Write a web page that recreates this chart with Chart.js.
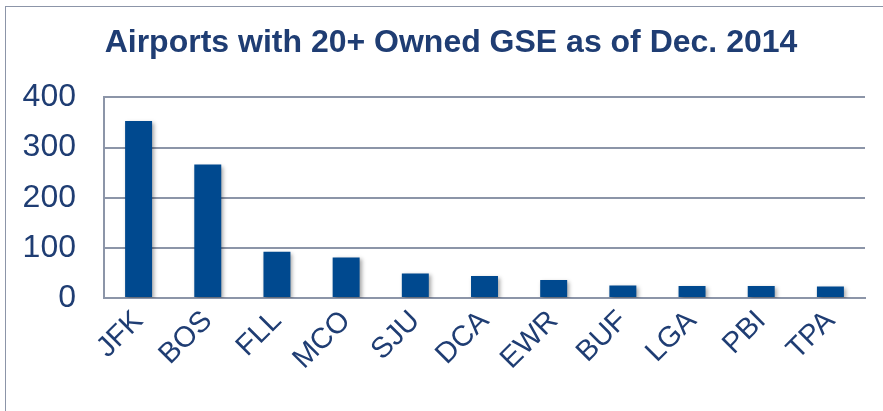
<!DOCTYPE html>
<html>
<head>
<meta charset="utf-8">
<script src="https://cdn.jsdelivr.net/npm/chart.js@4/dist/chart.umd.min.js"></script>
<style>
  html, body { margin: 0; padding: 0; background: #ffffff; }
  .frame {
    position: absolute;
    left: 5px; top: 6px;
    width: 900px; height: 420px;
    border-left: 1px solid #8c95a8;
    border-top: 1px solid #8c95a8;
  }
  .chart-box { position: absolute; left: 0; top: 0; width: 883px; height: 411px; }
</style>
</head>
<body>
<div class="frame"></div>
<div class="chart-box"><canvas id="gseChart"></canvas></div>
<script>
// Airports and owned GSE counts
const airports = ['JFK', 'BOS', 'FLL', 'MCO', 'SJU', 'DCA', 'EWR', 'BUF', 'LGA', 'PBI', 'TPA'];
const gseCounts = [353, 266, 92, 81, 49, 44, 36, 25, 24, 24, 23];
const yTicks = [0, 100, 200, 300, 400];

const textBlue = '#1f3d73';
const barBlue = '#00498f';
const gridGray = '#8c95a8';
const fontFamily = 'Liberation Sans, Arial, sans-serif';

// soft drop shadow under the bars, like the original export
const barShadow = {
    id: 'barShadow',
    beforeDatasetsDraw(chart) {
        const ctx = chart.ctx;
        ctx.save();
        ctx.shadowColor = 'rgba(0, 0, 0, 0.35)';
        ctx.shadowBlur = 4;
        ctx.shadowOffsetX = 2;
        ctx.shadowOffsetY = 2;
    },
    afterDatasetsDraw(chart) {
        chart.ctx.restore();
    }
};

// the original title sits a bit right of the canvas centre
const titleShift = {
    id: 'titleShift',
    afterLayout(chart) {
        if (chart.titleBlock) {
            chart.titleBlock.left += 37;
        }
    }
};

const ctx = document.getElementById('gseChart').getContext('2d');
new Chart(ctx, {
    type: 'bar',
    data: {
        labels: airports,
        datasets: [{
            label: 'Owned GSE',
            data: gseCounts,
            backgroundColor: barBlue,
            borderWidth: 0,
            barPercentage: 0.39,
            categoryPercentage: 1.0
        }]
    },
    options: {
        responsive: true,
        maintainAspectRatio: false,
        animation: false,
        layout: {
            padding: { left: 0, right: 18, top: 0, bottom: 0 }
        },
        plugins: {
            legend: { display: false },
            tooltip: { enabled: false },
            title: {
                display: true,
                text: 'Airports with 20+ Owned GSE as of Dec. 2014',
                color: textBlue,
                font: { family: fontFamily, size: 32, weight: 'bold' },
                padding: { top: 24, bottom: 35 }
            }
        },
        scales: {
            x: {
                grid: { display: false, drawTicks: false },
                border: { display: true, color: gridGray, width: 2 },
                ticks: {
                    color: textBlue,
                    font: { family: fontFamily, size: 29 },
                    minRotation: 45,
                    maxRotation: 45,
                    padding: 6
                },
                afterFit(scale) { scale.height = 113; }
            },
            y: {
                min: 0,
                max: 400,
                afterBuildTicks(scale) {
                    scale.ticks = yTicks.map(v => ({ value: v }));
                },
                grid: { color: gridGray, lineWidth: 2, drawTicks: false },
                border: { display: true, color: gridGray, width: 2 },
                ticks: {
                    color: textBlue,
                    font: { family: fontFamily, size: 32 },
                    padding: 28
                },
                afterFit(scale) { scale.width = 104; }
            }
        }
    },
    plugins: [barShadow, titleShift]
});
</script>
</body>
</html>
